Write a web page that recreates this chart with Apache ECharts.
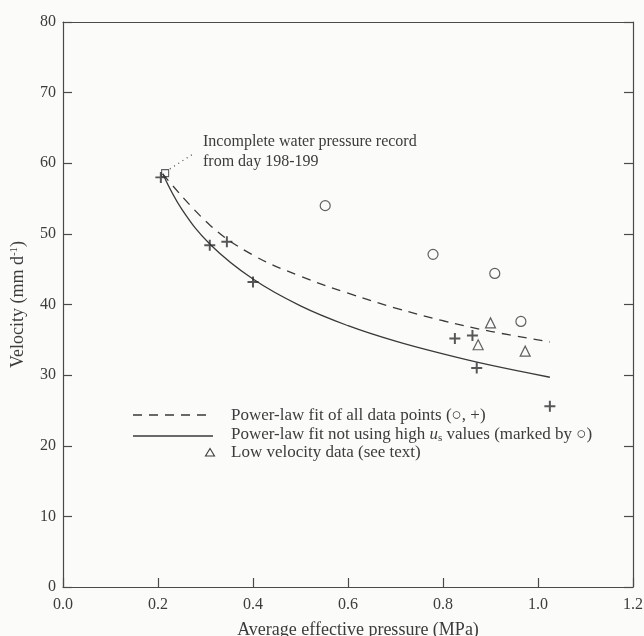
<!DOCTYPE html>
<html>
<head>
<meta charset="utf-8">
<script src="https://cdn.jsdelivr.net/npm/echarts@6/dist/echarts.min.js"></script>
<style>
  html, body { margin: 0; padding: 0; background: #fbfbf9; }
  #chart { width: 644px; height: 636px; }
</style>
</head>
<body>
<div id="chart"></div>
<script>
// measured points (MPa, mm/d)
const plusX = [0.206, 0.309, 0.345, 0.40, 0.825, 0.862, 0.871, 1.025];
const plusY = [58.0, 48.4, 48.9, 43.2, 35.2, 35.6, 31.0, 25.6];
const circleX = [0.552, 0.779, 0.909, 0.964];
const circleY = [54.0, 47.1, 44.4, 37.6];
const triX = [0.900, 0.874, 0.973];
const triY = [37.4, 34.3, 33.4];
const squareX = [0.215];
const squareY = [58.6];

// fit curves
const fitAllX = [0.21, 0.31, 0.40, 0.50, 0.60, 0.70, 0.80, 0.90, 1.025];
const fitAllY = [58.5, 51.2, 47.0, 44.0, 41.6, 39.5, 37.7, 36.2, 34.7];
const fitLowX = [0.21, 0.25, 0.31, 0.40, 0.50, 0.60, 0.70, 0.80, 0.90, 1.025];
const fitLowY = [58.5, 53.5, 48.5, 43.6, 39.8, 37.0, 34.8, 33.0, 31.4, 29.7];

const xTicks = [0, 0.2, 0.4, 0.6, 0.8, 1.0, 1.2];
const yTicks = [0, 10, 20, 30, 40, 50, 60, 70, 80];

const FONT = "'Liberation Serif', 'DejaVu Serif', serif";
const INK = '#3c3c3c';
const BG = '#fbfbf9';

const pairs = (xs, ys) => xs.map((x, i) => [x, ys[i]]);

const chart = echarts.init(document.getElementById('chart'));

const axisLine = { show: true, onZero: false, lineStyle: { color: '#4a4a4a', width: 1.2 } };
const tickIn = { show: true, inside: true, length: 9, lineStyle: { color: '#4a4a4a', width: 1.2 } };

const plusPath = 'path://M4.1,0h1.8v10h-1.8z M0,4.1h10v1.8h-10z';
const hollow = { color: 'rgba(0,0,0,0)', borderColor: '#3a3a3a', borderWidth: 1.2 };

chart.setOption({
  backgroundColor: BG,
  animation: false,
  textStyle: { fontFamily: FONT, color: INK },
  grid: { left: 63, right: 11, top: 22, bottom: 49, outerBoundsMode: 'none', containLabel: false },
  xAxis: [{
    type: 'value',
    min: xTicks[0],
    max: xTicks[xTicks.length - 1],
    interval: 0.2,
    axisLine,
    axisTick: tickIn,
    splitLine: { show: false },
    axisLabel: {
      margin: 10, fontSize: 16, color: INK, fontFamily: FONT,
      formatter: (v) => v.toFixed(1),
    },
    name: 'Average effective pressure (MPa)',
    nameLocation: 'middle',
    nameGap: 34,
    nameTextStyle: { fontSize: 18, color: INK, fontFamily: FONT, padding: [0, 0, 0, 20] },
  }, {
    type: 'value',
    position: 'top',
    min: 0, max: 1.2, interval: 0.2,
    axisLine,
    axisTick: { show: false },
    axisLabel: { show: false },
    splitLine: { show: false },
  }],
  yAxis: [{
    type: 'value',
    min: yTicks[0],
    max: yTicks[yTicks.length - 1],
    interval: 10,
    axisLine,
    axisTick: tickIn,
    splitLine: { show: false },
    axisLabel: { margin: 7, fontSize: 16, color: INK, fontFamily: FONT },
    name: 'Velocity (mm d{sup|-1})',
    nameLocation: 'middle',
    nameGap: 36,
    nameTextStyle: {
      fontSize: 18, color: INK, fontFamily: FONT,
      rich: { sup: { fontSize: 11, verticalAlign: 'top', padding: [0, 0, 7, 0], fontFamily: FONT, color: INK } },
    },
  }, {
    type: 'value',
    position: 'right',
    min: 0, max: 80, interval: 10,
    axisLine,
    axisTick: tickIn,
    axisLabel: { show: false },
    splitLine: { show: false },
  }],
  series: [
    {
      name: 'fit all',
      type: 'line',
      smooth: 0.4,
      symbol: 'none',
      data: pairs(fitAllX, fitAllY),
      lineStyle: { color: '#3a3a3a', width: 1.3, type: [9, 7] },
      z: 2,
    },
    {
      name: 'fit low',
      type: 'line',
      smooth: 0.4,
      symbol: 'none',
      data: pairs(fitLowX, fitLowY),
      lineStyle: { color: '#3a3a3a', width: 1.3 },
      z: 2,
    },
    {
      name: 'plus',
      type: 'scatter',
      symbol: plusPath,
      symbolSize: 11,
      data: pairs(plusX, plusY),
      itemStyle: { color: '#2e2e2e' },
      z: 3,
    },
    {
      name: 'circle',
      type: 'scatter',
      symbol: 'circle',
      symbolSize: 10,
      data: pairs(circleX, circleY),
      itemStyle: hollow,
      z: 3,
    },
    {
      name: 'triangle',
      type: 'scatter',
      symbol: 'triangle',
      symbolSize: 10,
      data: pairs(triX, triY),
      itemStyle: hollow,
      z: 3,
    },
    {
      name: 'square',
      type: 'scatter',
      symbol: 'rect',
      symbolSize: 7,
      data: pairs(squareX, squareY),
      itemStyle: { color: 'rgba(0,0,0,0)', borderColor: '#3a3a3a', borderWidth: 1.1 },
      z: 4,
      markLine: {
        silent: true,
        symbol: 'none',
        label: { show: false },
        lineStyle: { type: [1, 4], color: '#555', width: 1.3 },
        data: [[{ coord: [0.225, 59.2] }, { coord: [0.276, 61.4] }]],
      },
    },
  ],
  graphic: [
    // annotation
    {
      type: 'text', left: 203, top: 132,
      style: {
        text: 'Incomplete water pressure record\nfrom day 198-199',
        font: '16px ' + FONT, fill: INK, lineHeight: 20,
      },
    },
    // legend
    {
      type: 'line', shape: { x1: 133, y1: 415, x2: 213, y2: 415 },
      style: { stroke: '#3a3a3a', lineWidth: 1.3, lineDash: [9, 7] },
    },
    {
      type: 'text', left: 231, top: 407,
      style: { text: 'Power-law fit of all data points (○, +)', font: '17px ' + FONT, fill: INK },
    },
    {
      type: 'line', shape: { x1: 133, y1: 436, x2: 213, y2: 436 },
      style: { stroke: '#3a3a3a', lineWidth: 1.3 },
    },
    {
      type: 'text', left: 231, top: 426,
      style: {
        text: 'Power-law fit not using high {i|u}{s|s} values (marked by ○)',
        font: '17px ' + FONT, fill: INK,
        rich: {
          i: { fontStyle: 'italic', fontSize: 17, fontFamily: FONT, fill: INK },
          s: { fontSize: 11, fontFamily: FONT, fill: INK, padding: [7, 0, 0, 0] },
        },
      },
    },
    {
      type: 'polygon', shape: { points: [[210, 448.5], [214.5, 456], [205.5, 456]] },
      style: { fill: 'none', stroke: '#3a3a3a', lineWidth: 1.1 },
    },
    {
      type: 'text', left: 231, top: 444,
      style: { text: 'Low velocity data (see text)', font: '17px ' + FONT, fill: INK },
    },
  ],
});
</script>
</body>
</html>
